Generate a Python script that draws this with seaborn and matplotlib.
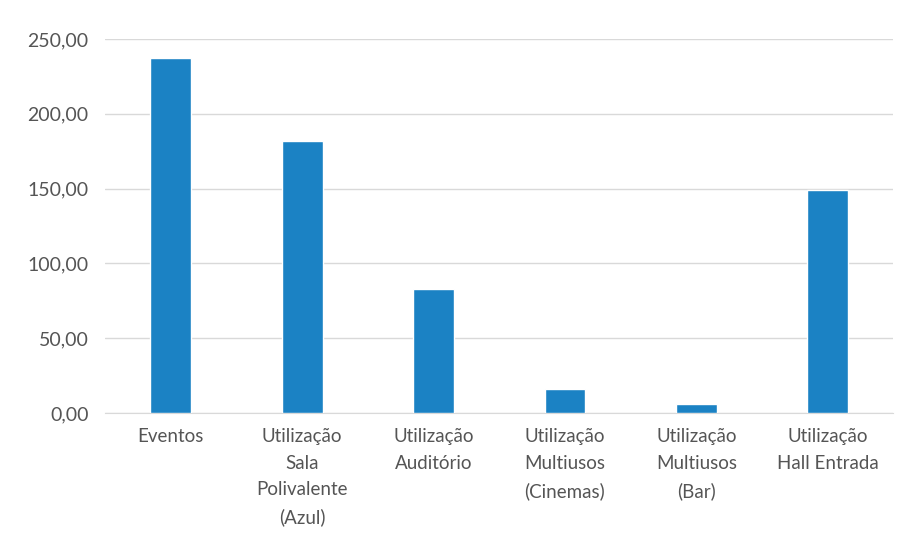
import matplotlib
matplotlib.use("Agg")
import matplotlib.pyplot as plt
import seaborn as sns
import pandas as pd
from matplotlib.ticker import FuncFormatter

# categories and values
categorias = [
    "Eventos",
    "Utilização\nSala\nPolivalente\n(Azul)",
    "Utilização\nAuditório",
    "Utilização\nMultiusos\n(Cinemas)",
    "Utilização\nMultiusos\n(Bar)",
    "Utilização\nHall Entrada",
]
valores = [237.3, 182.0, 83.0, 16.0, 6.0, 149.0]
yticks = [0, 50, 100, 150, 200, 250]

sns.set_style("white")
plt.rcParams['font.family'] = ['Lato', 'DejaVu Sans']

df = pd.DataFrame({"cat": categorias, "val": valores})

fig = plt.figure(figsize=(9.06, 5.5), dpi=100)
ax = fig.add_axes([0.116, 0.249, 0.870, 0.680])

sns.barplot(data=df, x="cat", y="val", color="#1b82c4", width=0.31,
            saturation=1, ax=ax, zorder=3)

ax.set_ylim(0, 250)
ax.set_yticks(yticks)
ax.yaxis.set_major_formatter(FuncFormatter(lambda v, p: f"{v:.2f}".replace(".", ",")))
ax.set_xlim(-0.5, len(categorias) - 0.5)
ax.grid(axis="y", color="#d9d9d9", linewidth=1, zorder=0)
ax.set_xlabel("")
ax.set_ylabel("")
for s in ["top", "right", "left"]:
    ax.spines[s].set_visible(False)
ax.spines["bottom"].set_color("#d9d9d9")
ax.tick_params(axis="y", length=0, labelsize=14, colors="#555555", pad=12)
ax.tick_params(axis="x", length=0, labelsize=13.5, colors="#555555", pad=11)
for lbl in ax.get_xticklabels():
    lbl.set_horizontalalignment("center")
    lbl.set_linespacing(1.68)

fig.savefig("out.png", dpi=100)
